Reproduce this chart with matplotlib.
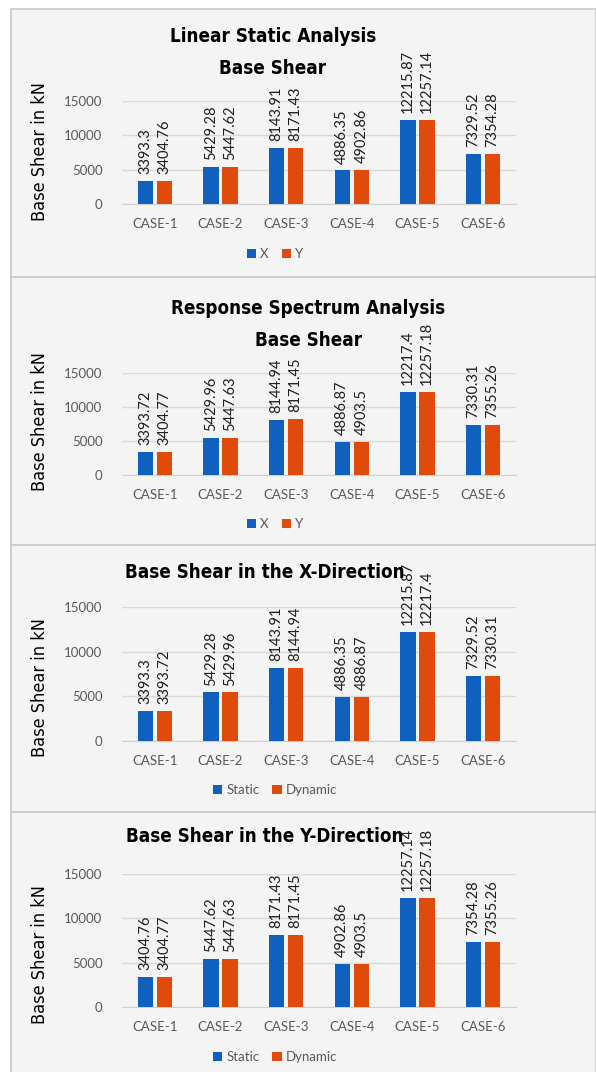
import matplotlib.pyplot as plt
from matplotlib.patches import Rectangle

# data
cases = ["CASE-1", "CASE-2", "CASE-3", "CASE-4", "CASE-5", "CASE-6"]
static_x = [3393.3, 5429.28, 8143.91, 4886.35, 12215.87, 7329.52]
static_y = [3404.76, 5447.62, 8171.43, 4902.86, 12257.14, 7354.28]
rsa_x = [3393.72, 5429.96, 8144.94, 4886.87, 12217.4, 7330.31]
rsa_y = [3404.77, 5447.63, 8171.45, 4903.5, 12257.18, 7355.26]
yticks = [0, 5000, 10000, 15000]

W, H = 596, 1072
blue = "#1060c0"
orange = "#e04a0a"
fig = plt.figure(figsize=(W / 100, H / 100), dpi=100)
fig.patch.set_facecolor("white")

def fx(px):
    return px / W

def fy(py):
    return 1 - py / H

title_font = dict(family="DejaVu Sans", stretch="condensed", weight="bold")
label_font = ["Lato", "DejaVu Sans"]

# panel: (top, bottom, y of 0, y of 15000, title lines, ylabel y, legend y, series)
panels = [
    (9, 277, 204, 101, [("Linear Static Analysis", 273, 37), ("Base Shear", 273, 68)],
     152, 254, [("X", static_x), ("Y", static_y)]),
    (277, 545, 475, 373, [("Response Spectrum Analysis", 308, 308), ("Base Shear", 309, 340)],
     422, 524, [("X", rsa_x), ("Y", rsa_y)]),
    (545, 812, 741, 607, [("Base Shear in the X-Direction", 265, 572)],
     688, 790, [("Static", static_x), ("Dynamic", rsa_x)]),
    (812, 1080, 1007, 874, [("Base Shear in the Y-Direction", 265, 837)],
     955, 1057, [("Static", static_y), ("Dynamic", rsa_y)]),
]

for top, bot, y0, y15, titles, ylab_y, leg_y, series in panels:
    fig.patches.append(Rectangle((fx(11), fy(bot)), fx(W - 11), (bot - top) / H,
                                 transform=fig.transFigure, facecolor="#f4f4f4",
                                 edgecolor="#c8c8c8", lw=1.2, zorder=-5))
    ax = fig.add_axes([fx(122), fy(y0), fx(394), (y0 - y15) / H])
    ax.set_facecolor("none")
    xs = range(len(cases))
    handles = []
    for k, (name, vals) in enumerate(series):
        off = -0.145 if k == 0 else 0.145
        pos = [x + off for x in xs]
        b = ax.bar(pos, vals, width=0.23, color=[blue, orange][k], label=name, zorder=3)
        handles.append(b)
        for p, v in zip(pos, vals):
            ax.annotate(str(v), (p, v), xytext=(0, 5), textcoords="offset points",
                        rotation=90, ha="center", va="bottom", fontsize=10.5,
                        color="#1e1e1e", family=label_font, annotation_clip=False)
    ax.set_xlim(-0.5, 5.5)
    ax.set_ylim(0, 15000)
    ax.set_yticks(yticks)
    ax.set_yticklabels([str(t) for t in yticks], family=label_font, fontsize=9.5, color="#595959")
    ax.set_xticks(list(xs))
    ax.set_xticklabels(cases, family=label_font, fontsize=9.5, color="#595959")
    ax.tick_params(length=0, axis="y", pad=14)
    ax.tick_params(length=0, axis="x", pad=10)
    ax.grid(axis="y", color="#d9d9d9", lw=1, zorder=0)
    for s in ["top", "right", "left"]:
        ax.spines[s].set_visible(False)
    ax.spines["bottom"].set_color("#d0d0d0")
    ax.spines["bottom"].set_zorder(1)

    for txt, tx, ty in titles:
        fig.text(fx(tx), fy(ty), txt, ha="center", va="center", fontsize=13.5, **title_font)
    fig.text(fx(40), fy(ylab_y), "Base Shear in kN", rotation=90, ha="center", va="center",
             fontsize=13, family="DejaVu Sans", stretch="condensed")
    fig.legend(handles=handles, loc="center", bbox_to_anchor=(fx(275), fy(leg_y)), ncol=2,
               frameon=False, handlelength=0.7, handleheight=0.7, handletextpad=0.3,
               columnspacing=1.0, prop=dict(family=label_font, size=9.5), labelcolor="#595959")

fig.savefig("out.png", dpi=100)
